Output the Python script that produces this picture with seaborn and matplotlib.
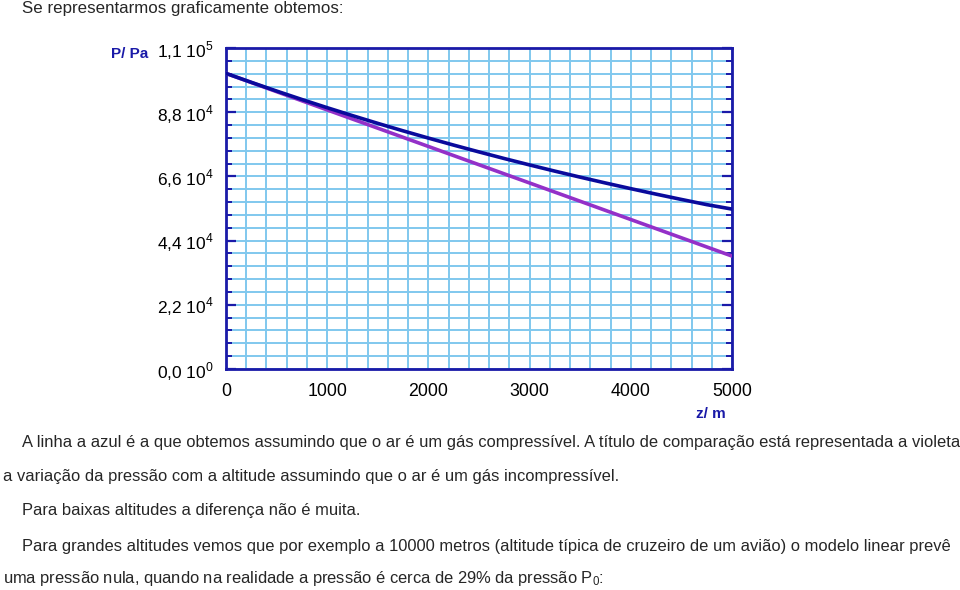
import matplotlib
matplotlib.use("Agg")
import matplotlib.pyplot as plt
import seaborn as sns
import pandas as pd
import numpy as np

# ---- data ----
z_blue = [0, 250, 500, 750, 1000, 1250, 1500, 1750, 2000, 2250, 2500,
          2750, 3000, 3250, 3500, 3750, 4000, 4250, 4500, 4750, 5000]
p_blue = [101300, 98240, 95250, 92350, 89540, 86820, 84170, 81610, 79130, 76720, 74390,
          72120, 69930, 67800, 65740, 63740, 61800, 59920, 58100, 56330, 54800]
z_violet = [0, 1000, 2000, 3000, 4000, 5000]
p_violet = [101300, 88780, 76260, 63740, 51220, 38700]

x_ticks = [0, 1000, 2000, 3000, 4000, 5000]
y_ticks = [0, 22000, 44000, 66000, 88000, 110000]
y_tick_labels = ["0,0 10$^{0}$", "2,2 10$^{4}$", "4,4 10$^{4}$",
                 "6,6 10$^{4}$", "8,8 10$^{4}$", "1,1 10$^{5}$"]

intro = "Se representarmos graficamente obtemos:"
para_lines = [
    "A linha a azul é a que obtemos assumindo que o ar é um gás compressível. A título de comparação está representada a violeta",
    "a variação da pressão com a altitude assumindo que o ar é um gás incompressível.",
    "Para baixas altitudes a diferença não é muita.",
    "Para grandes altitudes vemos que por exemplo a 10000 metros (altitude típica de cruzeiro de um avião) o modelo linear prevê",
    "uma pressão nula, quando na realidade a pressão é cerca de 29% da pressão P$_{0}$:",
]
para_x = [22, 3, 22, 22, 3]

sns.set_style("white")
plt.rcParams['font.family'] = ['Liberation Sans', 'DejaVu Sans']
plt.rcParams['mathtext.fontset'] = 'custom'
plt.rcParams['mathtext.rm'] = 'Liberation Sans'

W, H = 960, 590
fig = plt.figure(figsize=(9.6, 5.9), dpi=100)
ax = fig.add_axes([226 / W, 1 - 369 / H, (732 - 226) / W, (369 - 48) / H])

grid_c = "#80c8ee"
spine_c = "#1a1aa8"

df_b = pd.DataFrame({"z": z_blue, "P": p_blue})
df_v = pd.DataFrame({"z": z_violet, "P": p_violet})
sns.lineplot(data=df_v, x="z", y="P", ax=ax, color="#9430c8", lw=2.6, zorder=3)
sns.lineplot(data=df_b, x="z", y="P", ax=ax, color="#0a0a9c", lw=2.6, zorder=4)

ax.set_xlim(0, 5000)
ax.set_ylim(0, 110000)
ax.set_xticks(x_ticks)
ax.set_xticks(np.arange(0, 5001, 200), minor=True)
ax.set_yticks(y_ticks)
ax.set_yticklabels(y_tick_labels)
ax.set_yticks(np.arange(0, 110001, 4400), minor=True)
ax.grid(True, which="both", color=grid_c, lw=1.4, zorder=1)
ax.set_axisbelow(True)

ax.tick_params(axis="x", which="both", length=0, labelsize=12.8, pad=10, colors="black")
ax.tick_params(axis="y", which="major", direction="in", length=7, width=1.6,
               color=spine_c, left=True, right=True, labelsize=12.5, pad=9,
               labelcolor="black")
ax.tick_params(axis="y", which="minor", direction="in", length=4, width=1.4,
               color=spine_c, left=True, right=True)
for s in ax.spines.values():
    s.set_color(spine_c)
    s.set_linewidth(2)
    s.set_visible(True)
ax.set_xlabel("")
ax.set_ylabel("")

fig.text(130 / W, 1 - 54 / H, "P/ Pa", color=spine_c, fontsize=11, fontweight="bold",
         ha="center", va="center")
fig.text(711 / W, 1 - 414 / H, "z/ m", color=spine_c, fontsize=11, fontweight="bold",
         ha="center", va="center")

fig.text(22 / W, 1 - 8 / H, intro, fontsize=12.2, ha="left", va="center")
ys = [442, 477, 511, 546, 579]
for t, x, y in zip(para_lines, para_x, ys):
    fig.text(x / W, 1 - y / H, t, fontsize=11.85, ha="left", va="center")

fig.savefig("out.png", dpi=100)
